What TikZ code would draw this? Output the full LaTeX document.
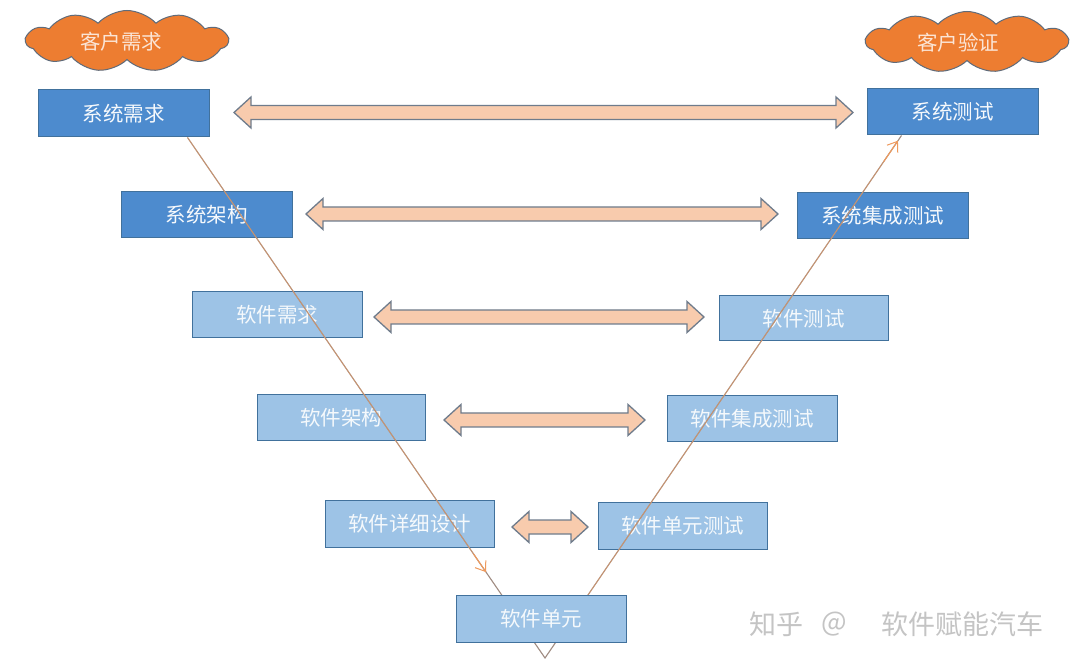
\documentclass[tikz,border=0pt]{standalone}
\usepackage{fontspec}
\newfontfamily\cjk{Noto Sans CJK SC}
\usetikzlibrary{shapes.symbols,arrows.meta,calc}
\definecolor{darkbox}{HTML}{4D8BCE}
\definecolor{lightbox}{HTML}{9DC3E6}
\definecolor{boxedge}{HTML}{41719C}
\definecolor{cloudfill}{HTML}{ED7D31}
\definecolor{cloudedge}{HTML}{5F6B7A}
\definecolor{cloudtext}{HTML}{FBE5D6}
\definecolor{arrfill}{HTML}{F8CBAD}
\definecolor{arredge}{HTML}{6F7C8C}
\definecolor{vline}{HTML}{A08C82}
\definecolor{vorange}{HTML}{EE9A5E}
\definecolor{wmark}{HTML}{C4C4C4}
\tikzset{
  boxbase/.style={draw=boxedge, line width=1pt, inner sep=0pt, minimum width=170pt, minimum height=46pt,
    font=\cjk\fontsize{20.5}{24}\selectfont},
  darkstep/.style={boxbase, fill=darkbox, text=white!95!darkbox},
  lightstep/.style={boxbase, fill=lightbox, text=white!90!lightbox},
  cloudbox/.style={cloud, cloud puffs=11, cloud puff arc=95, aspect=2.8, draw=cloudedge, line width=1pt,
    fill=cloudfill, minimum width=202pt, minimum height=61pt, inner sep=0pt},
  cloudlabel/.style={text=cloudtext, font=\cjk\fontsize{20.5}{24}\selectfont, inner sep=0pt},
  blockarrow/.style={draw=arredge, fill=arrfill, line width=1.3pt, line join=miter},
  vstyle/.style={draw=vline, line width=1.1pt},
  orangeline/.style={draw=vorange, line width=0.9pt, draw opacity=0.5},
  orangetip/.style={draw=vorange, line width=1pt, -{Straight Barb[length=9pt,width=13pt,line width=1pt]}},
  wm/.style={text=wmark, font=\cjk\fontsize{27}{30}\selectfont, inner sep=0pt}
}
\newcommand\dblarr[3]{%
  \path[blockarrow] (#1,#3) -- ({#1+17},{#3-15.5}) -- ({#1+17},{#3-7}) -- ({#2-17},{#3-7})
    -- ({#2-17},{#3-15.5}) -- (#2,#3) -- ({#2-17},{#3+15.5}) -- ({#2-17},{#3+7})
    -- ({#1+17},{#3+7}) -- ({#1+17},{#3+15.5}) -- cycle;}
\begin{document}
\begin{tikzpicture}[x=1pt,y=-1pt]
\useasboundingbox (0,0) rectangle (1080,668);
\fill[white] (0,0) rectangle (1080,668);

% clouds
\node[cloudbox] (custreq) at (127,41) {};
\node[cloudlabel] (custreqt) at (121,42) {客户需求};
\node[cloudbox] (custver) at (967,42) {};
\node[cloudlabel] (custvert) at (958,43) {客户验证};

% boxes
\node[darkstep, minimum width=171pt, minimum height=47pt] (sysreq) at (123.5,113.5) {系统需求};
\node[darkstep, minimum width=171pt] (systest) at (952.5,112) {系统测试};
\node[darkstep, minimum width=171pt] (sysarch) at (206.5,215) {系统架构};
\node[darkstep, minimum width=171pt] (sysint) at (882.5,216) {系统集成测试};
\node[lightstep] (swreq) at (277,315) {软件需求};
\node[lightstep, minimum width=169pt, minimum height=45pt] (swtest) at (803.5,318.5) {软件测试};
\node[lightstep, minimum width=168pt] (swarch) at (341,418) {软件架构};
\node[lightstep] (swint) at (752,419) {软件集成测试};
\node[lightstep, minimum width=169pt, minimum height=47pt] (swdd) at (409.5,523.5) {软件详细设计};
\node[lightstep, minimum width=169pt, minimum height=47pt] (swut) at (682.5,525.5) {软件单元测试};

% block double arrows
\dblarr{234}{853}{112.5}
\dblarr{306}{778}{214}
\dblarr{374}{704}{317}
\dblarr{444}{645}{420}
\dblarr{512}{588}{527}

% V lines
\coordinate (vtopl) at ($(sysreq.south west)+(150,0)$);
\coordinate (vtopr) at ($(systest.south west)+(35,0)$);
\coordinate (apex) at (545,658);
\draw[vstyle] (vtopl) -- (apex) -- (vtopr);
\coordinate (larrowend) at ($(vtopl)!0.835!(apex)$);
\coordinate (larrowpre) at ($(vtopl)!0.80!(apex)$);
\coordinate (rarrowstart) at ($(apex)!0.12!(vtopr)$);
\coordinate (rarrowend) at ($(apex)!0.99!(vtopr)$);
\coordinate (rarrowpre) at ($(apex)!0.95!(vtopr)$);
\draw[orangeline] (vtopl) -- (larrowend);
\draw[orangeline] (rarrowstart) -- (rarrowend);
\draw[orangetip] (larrowpre) -- (larrowend);
\draw[orangetip] (rarrowpre) -- (rarrowend);

% bottom box over the V
\node[lightstep, minimum width=170pt, minimum height=47pt] (swunit) at (541,618.5) {软件单元};

% watermark
\node[wm] (wm1) at (776,624) {知乎};
\node[wm] (wm2) at (834,624) {@};
\node[wm] (wm3) at (962,624) {软件赋能汽车};
\end{tikzpicture}
\end{document}
